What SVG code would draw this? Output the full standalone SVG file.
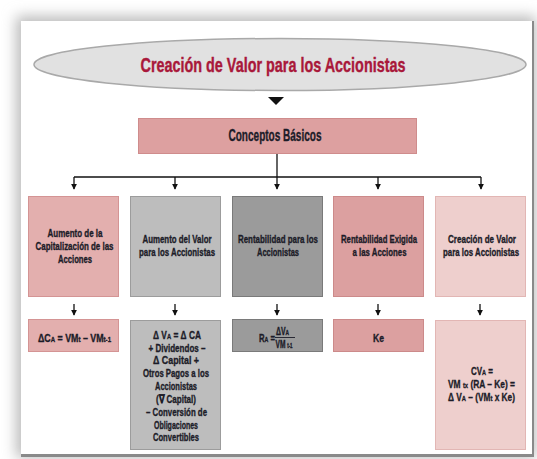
<svg xmlns="http://www.w3.org/2000/svg" width="537" height="459" viewBox="0 0 537 459">
<defs>
<filter id="soft" x="-10%" y="-10%" width="120%" height="120%"><feGaussianBlur stdDeviation="7"/></filter>
<marker id="ah" viewBox="0 0 8 10" refX="7" refY="5" markerWidth="6" markerHeight="7.5" orient="auto" markerUnits="userSpaceOnUse"><path d="M0,1 L8,5 L0,9 z" fill="#111"/></marker>
</defs>
<style>
.t{font-family:"Liberation Sans Narrow","Liberation Sans",Arial,sans-serif;font-weight:bold;fill:#1c1c28;stroke:#1c1c28;stroke-width:0.35;text-anchor:middle;font-size:11.5px}
.c{stroke:#111;stroke-width:1.3;fill:none}
.box{stroke-width:1}
</style>
<rect width="537" height="459" fill="#ffffff"/>
<rect x="16" y="16" width="520" height="442" fill="#bbbbbb" filter="url(#soft)"/>
<rect x="21" y="21" width="513" height="436" fill="#8a8a8a"/>
<rect x="21" y="21" width="511" height="433" fill="#ffffff"/>

<g id="title">
<ellipse cx="280" cy="64.5" rx="246" ry="26" fill="#e1e1e1" stroke="#a9a9a9" stroke-width="1.5"/>
<text x="273" y="71.5" style="font-family:'Liberation Sans Narrow','Liberation Sans',Arial,sans-serif;font-weight:bold;font-size:21px;fill:#a9183a;stroke:#a9183a;stroke-width:0.4;text-anchor:middle" textLength="265" lengthAdjust="spacingAndGlyphs">Creación de Valor para los Accionistas</text>
</g>

<g id="connectors">
<path d="M268,97 L284,97 L276,105 z" fill="#111"/>
<path class="c" d="M277,154 V177"/>
<path class="c" d="M74,177 H481"/>
<path class="c" d="M74,177 V189" marker-end="url(#ah)"/>
<path class="c" d="M175,177 V189" marker-end="url(#ah)"/>
<path class="c" d="M277,177 V189" marker-end="url(#ah)"/>
<path class="c" d="M378,177 V189" marker-end="url(#ah)"/>
<path class="c" d="M481,177 V189" marker-end="url(#ah)"/>
<path class="c" d="M74,304 V315" marker-end="url(#ah)"/>
<path class="c" d="M175,304 V315" marker-end="url(#ah)"/>
<path class="c" d="M277,304 V315" marker-end="url(#ah)"/>
<path class="c" d="M378,304 V315" marker-end="url(#ah)"/>
<path class="c" d="M480,304 V315" marker-end="url(#ah)"/>
</g>

<g id="conceptos">
<rect x="138.5" y="118.5" width="278" height="35" fill="#dda0a0" stroke="#cf8c8c" class="box"/>
<text class="t" x="275" y="141" style="font-size:16px" textLength="93" lengthAdjust="spacingAndGlyphs">Conceptos Básicos</text>
</g>

<g id="col1">
<rect x="28.5" y="196.5" width="90" height="100" fill="#e3afae" stroke="#d49494" class="box"/>
<text class="t" x="75" y="237" textLength="55" lengthAdjust="spacingAndGlyphs">Aumento de la</text>
<text class="t" x="74.5" y="250" textLength="78" lengthAdjust="spacingAndGlyphs">Capitalización de las</text>
<text class="t" x="75" y="263" textLength="34" lengthAdjust="spacingAndGlyphs">Acciones</text>
</g>
<g id="col2">
<rect x="130.5" y="196.5" width="90" height="100" fill="#bdbdbd" stroke="#9c9c9c" class="box"/>
<text class="t" x="177" y="243" textLength="69" lengthAdjust="spacingAndGlyphs">Aumento del Valor</text>
<text class="t" x="177" y="256" textLength="76" lengthAdjust="spacingAndGlyphs">para los Accionistas</text>
</g>
<g id="col3">
<rect x="232.5" y="196.5" width="90" height="100" fill="#9b9b9b" stroke="#7a7a7a" class="box"/>
<text class="t" x="278" y="243" textLength="80" lengthAdjust="spacingAndGlyphs">Rentabilidad para los</text>
<text class="t" x="278" y="256" textLength="42" lengthAdjust="spacingAndGlyphs">Accionistas</text>
</g>
<g id="col4">
<rect x="333.5" y="196.5" width="90" height="100" fill="#dca0a0" stroke="#cc8a8a" class="box"/>
<text class="t" x="379" y="243" textLength="76" lengthAdjust="spacingAndGlyphs">Rentabilidad Exigida</text>
<text class="t" x="379.5" y="256" textLength="54" lengthAdjust="spacingAndGlyphs">a las Acciones</text>
</g>
<g id="col5">
<rect x="435.5" y="196.5" width="90" height="100" fill="#eecfcd" stroke="#e2b6b4" class="box"/>
<text class="t" x="482" y="243" textLength="68" lengthAdjust="spacingAndGlyphs">Creación de Valor</text>
<text class="t" x="481" y="256" textLength="76" lengthAdjust="spacingAndGlyphs">para los Accionistas</text>
</g>

<g id="f1">
<rect x="28.5" y="319.5" width="90" height="32" fill="#e3afae" stroke="#d49494" class="box"/>
<text class="t" x="74.5" y="341.5" style="font-size:11px" textLength="73" lengthAdjust="spacingAndGlyphs">ΔC<tspan font-size="7.5">A</tspan> = VM<tspan font-size="7.5">t</tspan> – VM<tspan font-size="7.5">t-1</tspan></text>
</g>
<g id="f2">
<rect x="130.5" y="320.5" width="90" height="129" fill="#bdbdbd" stroke="#9c9c9c" class="box"/>
<text class="t" x="177" y="339" textLength="48" lengthAdjust="spacingAndGlyphs">Δ V<tspan font-size="8">A</tspan> = Δ CA</text>
<text class="t" x="177" y="351.5" textLength="57" lengthAdjust="spacingAndGlyphs">+ Dividendos –</text>
<text class="t" x="176" y="364" textLength="46" lengthAdjust="spacingAndGlyphs">Δ Capital +</text>
<text class="t" x="176" y="377" textLength="66" lengthAdjust="spacingAndGlyphs">Otros Pagos a los</text>
<text class="t" x="176" y="390" textLength="42" lengthAdjust="spacingAndGlyphs">Accionistas</text>
<text class="t" x="176" y="402.5" textLength="40" lengthAdjust="spacingAndGlyphs">(∇ Capital)</text>
<text class="t" x="176.5" y="415.5" textLength="61" lengthAdjust="spacingAndGlyphs">– Conversión de</text>
<text class="t" x="176" y="428.5" textLength="44" lengthAdjust="spacingAndGlyphs">Obligaciones</text>
<text class="t" x="176" y="441" textLength="46" lengthAdjust="spacingAndGlyphs">Convertibles</text>
</g>
<g id="f3">
<rect x="232.5" y="319.5" width="90" height="32" fill="#9b9b9b" stroke="#7a7a7a" class="box"/>
<text class="t" x="267" y="342" style="font-size:11px" textLength="16" lengthAdjust="spacingAndGlyphs">R<tspan font-size="7.5">A</tspan> =</text>
<text class="t" x="282.5" y="335" style="font-size:10px" textLength="13" lengthAdjust="spacingAndGlyphs">ΔV<tspan font-size="7">A</tspan></text>
<path d="M275,337.5 H295" stroke="#1c1c28" stroke-width="0.9"/>
<text class="t" x="284" y="347.5" style="font-size:10px" textLength="17" lengthAdjust="spacingAndGlyphs">VM <tspan font-size="6.5">t-1</tspan></text>
</g>
<g id="f4">
<rect x="333.5" y="319.5" width="90" height="32" fill="#dca0a0" stroke="#cc8a8a" class="box"/>
<text class="t" x="378.5" y="342" textLength="11" lengthAdjust="spacingAndGlyphs">Ke</text>
</g>
<g id="f5">
<rect x="435.5" y="320.5" width="90" height="129" fill="#eecfcd" stroke="#e2b6b4" class="box"/>
<text class="t" x="482" y="375" textLength="22" lengthAdjust="spacingAndGlyphs">CV<tspan font-size="8">A</tspan> =</text>
<text class="t" x="481.5" y="388" textLength="67" lengthAdjust="spacingAndGlyphs">VM <tspan font-size="8">tx</tspan> (RA – Ke) =</text>
<text class="t" x="481.5" y="401" textLength="67" lengthAdjust="spacingAndGlyphs">Δ V<tspan font-size="8">A</tspan> – (VM<tspan font-size="8">t</tspan> x Ke)</text>
</g>
</svg>
